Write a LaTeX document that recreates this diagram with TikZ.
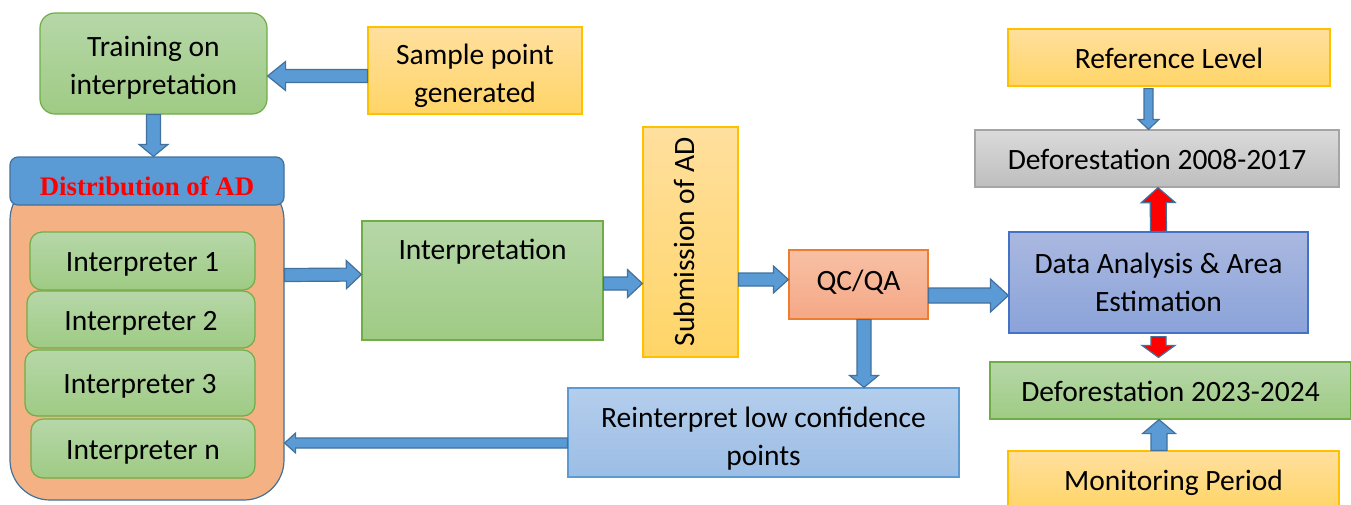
\documentclass[tikz,border=0pt]{standalone}
\usepackage{fontspec}
\setmainfont{Carlito}
\newfontfamily\hdrfont{Liberation Serif}
\usetikzlibrary{calc}
\definecolor{grtop}{HTML}{B6D7A8}
\definecolor{grbot}{HTML}{9FCB84}
\definecolor{grline}{HTML}{70AD47}
\definecolor{yltop}{HTML}{FFDF9E}
\definecolor{ylbot}{HTML}{FFD567}
\definecolor{ylline}{HTML}{FFC000}
\definecolor{arfill}{HTML}{5B9BD5}
\definecolor{arline}{HTML}{41719C}
\definecolor{poolfill}{HTML}{F4B183}
\definecolor{qctop}{HTML}{F8C0A5}
\definecolor{qcbot}{HTML}{F4A886}
\definecolor{qcline}{HTML}{ED7D31}
\definecolor{bltop}{HTML}{B4CEEC}
\definecolor{blbot}{HTML}{9CBDE5}
\definecolor{blline}{HTML}{5B9BD5}
\definecolor{gytop}{HTML}{DADADA}
\definecolor{gybot}{HTML}{BEBEBE}
\definecolor{gyline}{HTML}{A5A5A5}
\definecolor{dttop}{HTML}{AAB8E0}
\definecolor{dtbot}{HTML}{8AA3D9}
\definecolor{dtline}{HTML}{4472C4}
\tikzset{
  box/.style={draw, line width=1.2pt, inner sep=0pt, align=center,
    font=\fontsize{29.5}{38}\selectfont},
  oneline/.style={text height=21pt, text depth=0pt},
  wh/.style 2 args={minimum width=#1pt, minimum height=#2pt},
  grbox/.style={box, draw=grline, top color=grtop, bottom color=grbot},
  ylbox/.style={box, draw=ylline, top color=yltop, bottom color=ylbot},
  qcbox/.style={box, draw=qcline, top color=qctop, bottom color=qcbot},
  blbox/.style={box, draw=blline, top color=bltop, bottom color=blbot},
  gybox/.style={box, draw=gyline, top color=gytop, bottom color=gybot},
  dtbox/.style={box, draw=dtline, top color=dttop, bottom color=dtbot},
  bshaft/.store in=\bshaft, bhead/.store in=\bhead, blen/.store in=\blen,
  bshaft=7, bhead=14.5, blen=15,
  blockarrow/.style={draw=arline, fill=arfill, line width=1.2pt, line join=miter,
    to path={let \p1=(\tikztostart), \p2=(\tikztotarget),
      \n1={atan2(\y2-\y1,\x2-\x1)}, \n2={veclen(\x2-\x1,\y2-\y1)} in
      {[shift={(\p1)}, rotate=\n1]
      (0pt,-\bshaft pt) -- (\n2-\blen pt,-\bshaft pt) -- (\n2-\blen pt,-\bhead pt)
      -- (\n2,0pt) -- (\n2-\blen pt,\bhead pt) -- (\n2-\blen pt,\bshaft pt)
      -- (0pt,\bshaft pt) -- cycle}}},
  redarrow/.style={blockarrow, fill=red},
}
\begin{document}
\begin{tikzpicture}[x=1pt,y=-1pt]
    \useasboundingbox (0,0) rectangle (1351,504);
    % left column
    \path
    (153.5,63.5) node[grbox, wh={227}{101}, rounded corners=15pt] (train) {\rule{0pt}{28pt}Training on\\interpretation}
    (475,70.5) node[ylbox, wh={214}{87}] (sample) {\rule{0pt}{32pt}Sample point\\generated}
    (147,340) node[draw=arline, fill=poolfill, line width=1.2pt, wh={274}{320}, rounded corners=40pt] (pool) {}
    (147,181) node[draw=arline, fill=arfill, line width=1.2pt, wh={274}{48}, rounded corners=8pt,
      font=\hdrfont\bfseries\fontsize{26.8}{30}\selectfont, text=red, text height=28pt, text depth=0pt] (dist) {Distribution of AD}
    (142.5,261) node[grbox, oneline, wh={225}{58}, rounded corners=12pt] (int1) {Interpreter 1}
    (141,319.5) node[grbox, oneline, wh={228}{57}, rounded corners=12pt] (int2) {Interpreter 2}
    (140,383) node[grbox, oneline, wh={230}{66}, rounded corners=12pt] (int3) {Interpreter 3}
    (143,448.5) node[grbox, oneline, wh={224}{59}, rounded corners=12pt] (intn) {Interpreter n}
    ;

    % middle
    \path
    (482.5,280.5) node[grbox, wh={241}{119}, text height=20pt, text depth=63pt] (interp) {Interpretation}
    (690.5,242) node[ylbox, wh={95}{230}] (subm) {\rotatebox{90}{\rule[-14pt]{0pt}{35pt}Submission of AD}}
    (858.5,284.5) node[qcbox, wh={139}{69}, text height=21pt, text depth=9pt] (qcqa) {QC/QA}
    (763.5,432.5) node[blbox, wh={391}{89}] (reint) {\rule{0pt}{33pt}Reinterpret low confidence\\points}
    ;

    % right column
    \path
    (1169,57.5) node[ylbox, oneline, wh={322}{57}] (reflev) {Reference Level}
    (1157,158.5) node[gybox, oneline, wh={364}{57}] (def08) {Deforestation 2008-2017}
    (1158.5,282.5) node[dtbox, wh={299}{101}] (data) {Data Analysis \& Area\\Estimation}
    (1170.5,390.5) node[grbox, oneline, wh={361}{57}] (def23) {Deforestation 2023-2024}
    (1173.5,480) node[ylbox, oneline, wh={331}{58}] (monit) {Monitoring Period}
    ;

    \draw[blockarrow, bshaft=6.5, bhead=14.5, blen=18] ([yshift=-5.5pt]sample.west) to ([yshift=-12.5pt]train.east);
    \draw[blockarrow, bshaft=7, bhead=14.5, blen=12] (train.south) to (train.south |- dist.north);
    \draw[blockarrow, bshaft=6.5, bhead=14, blen=15] ([yshift=65pt]pool.east) to ([yshift=6pt]interp.west);
    \draw[blockarrow, bshaft=6.5, bhead=14, blen=15] ([yshift=-3pt]interp.east) to ([yshift=-41.5pt]subm.west);
    \draw[blockarrow, bshaft=6.5, bhead=13.5, blen=15] ([yshift=-37.5pt]subm.east) to ([yshift=5pt]qcqa.west);
    \draw[blockarrow, bshaft=7.5, bhead=16.5, blen=18] ([yshift=-11pt]qcqa.east) to ([yshift=-13pt]data.west);
    \draw[blockarrow, bshaft=7, bhead=14.5, blen=12] ([xshift=5.5pt]qcqa.south) to ([xshift=100.5pt]reint.north);
    \draw[blockarrow, bshaft=5, bhead=10, blen=11] ([yshift=-10.5pt]reint.west) to ([yshift=-103pt]pool.east);
    \draw[blockarrow, bshaft=4.5, bhead=10.5, blen=10] ([xshift=-20.5pt,yshift=-2pt]reflev.south) to ([xshift=-8.5pt]def08.north);
    \draw[redarrow, bshaft=8, bhead=17, blen=15] (data.north) to ([xshift=1pt]def08.south);
    \draw[redarrow, bshaft=7.5, bhead=16.5, blen=12] ([yshift=-3pt]data.south) to ([xshift=-12pt,yshift=4pt]def23.north);
    \draw[blockarrow, bshaft=8, bhead=16.5, blen=14] ([xshift=-14.5pt]monit.north) to ([xshift=-11.5pt]def23.south);
\end{tikzpicture}
\end{document}
